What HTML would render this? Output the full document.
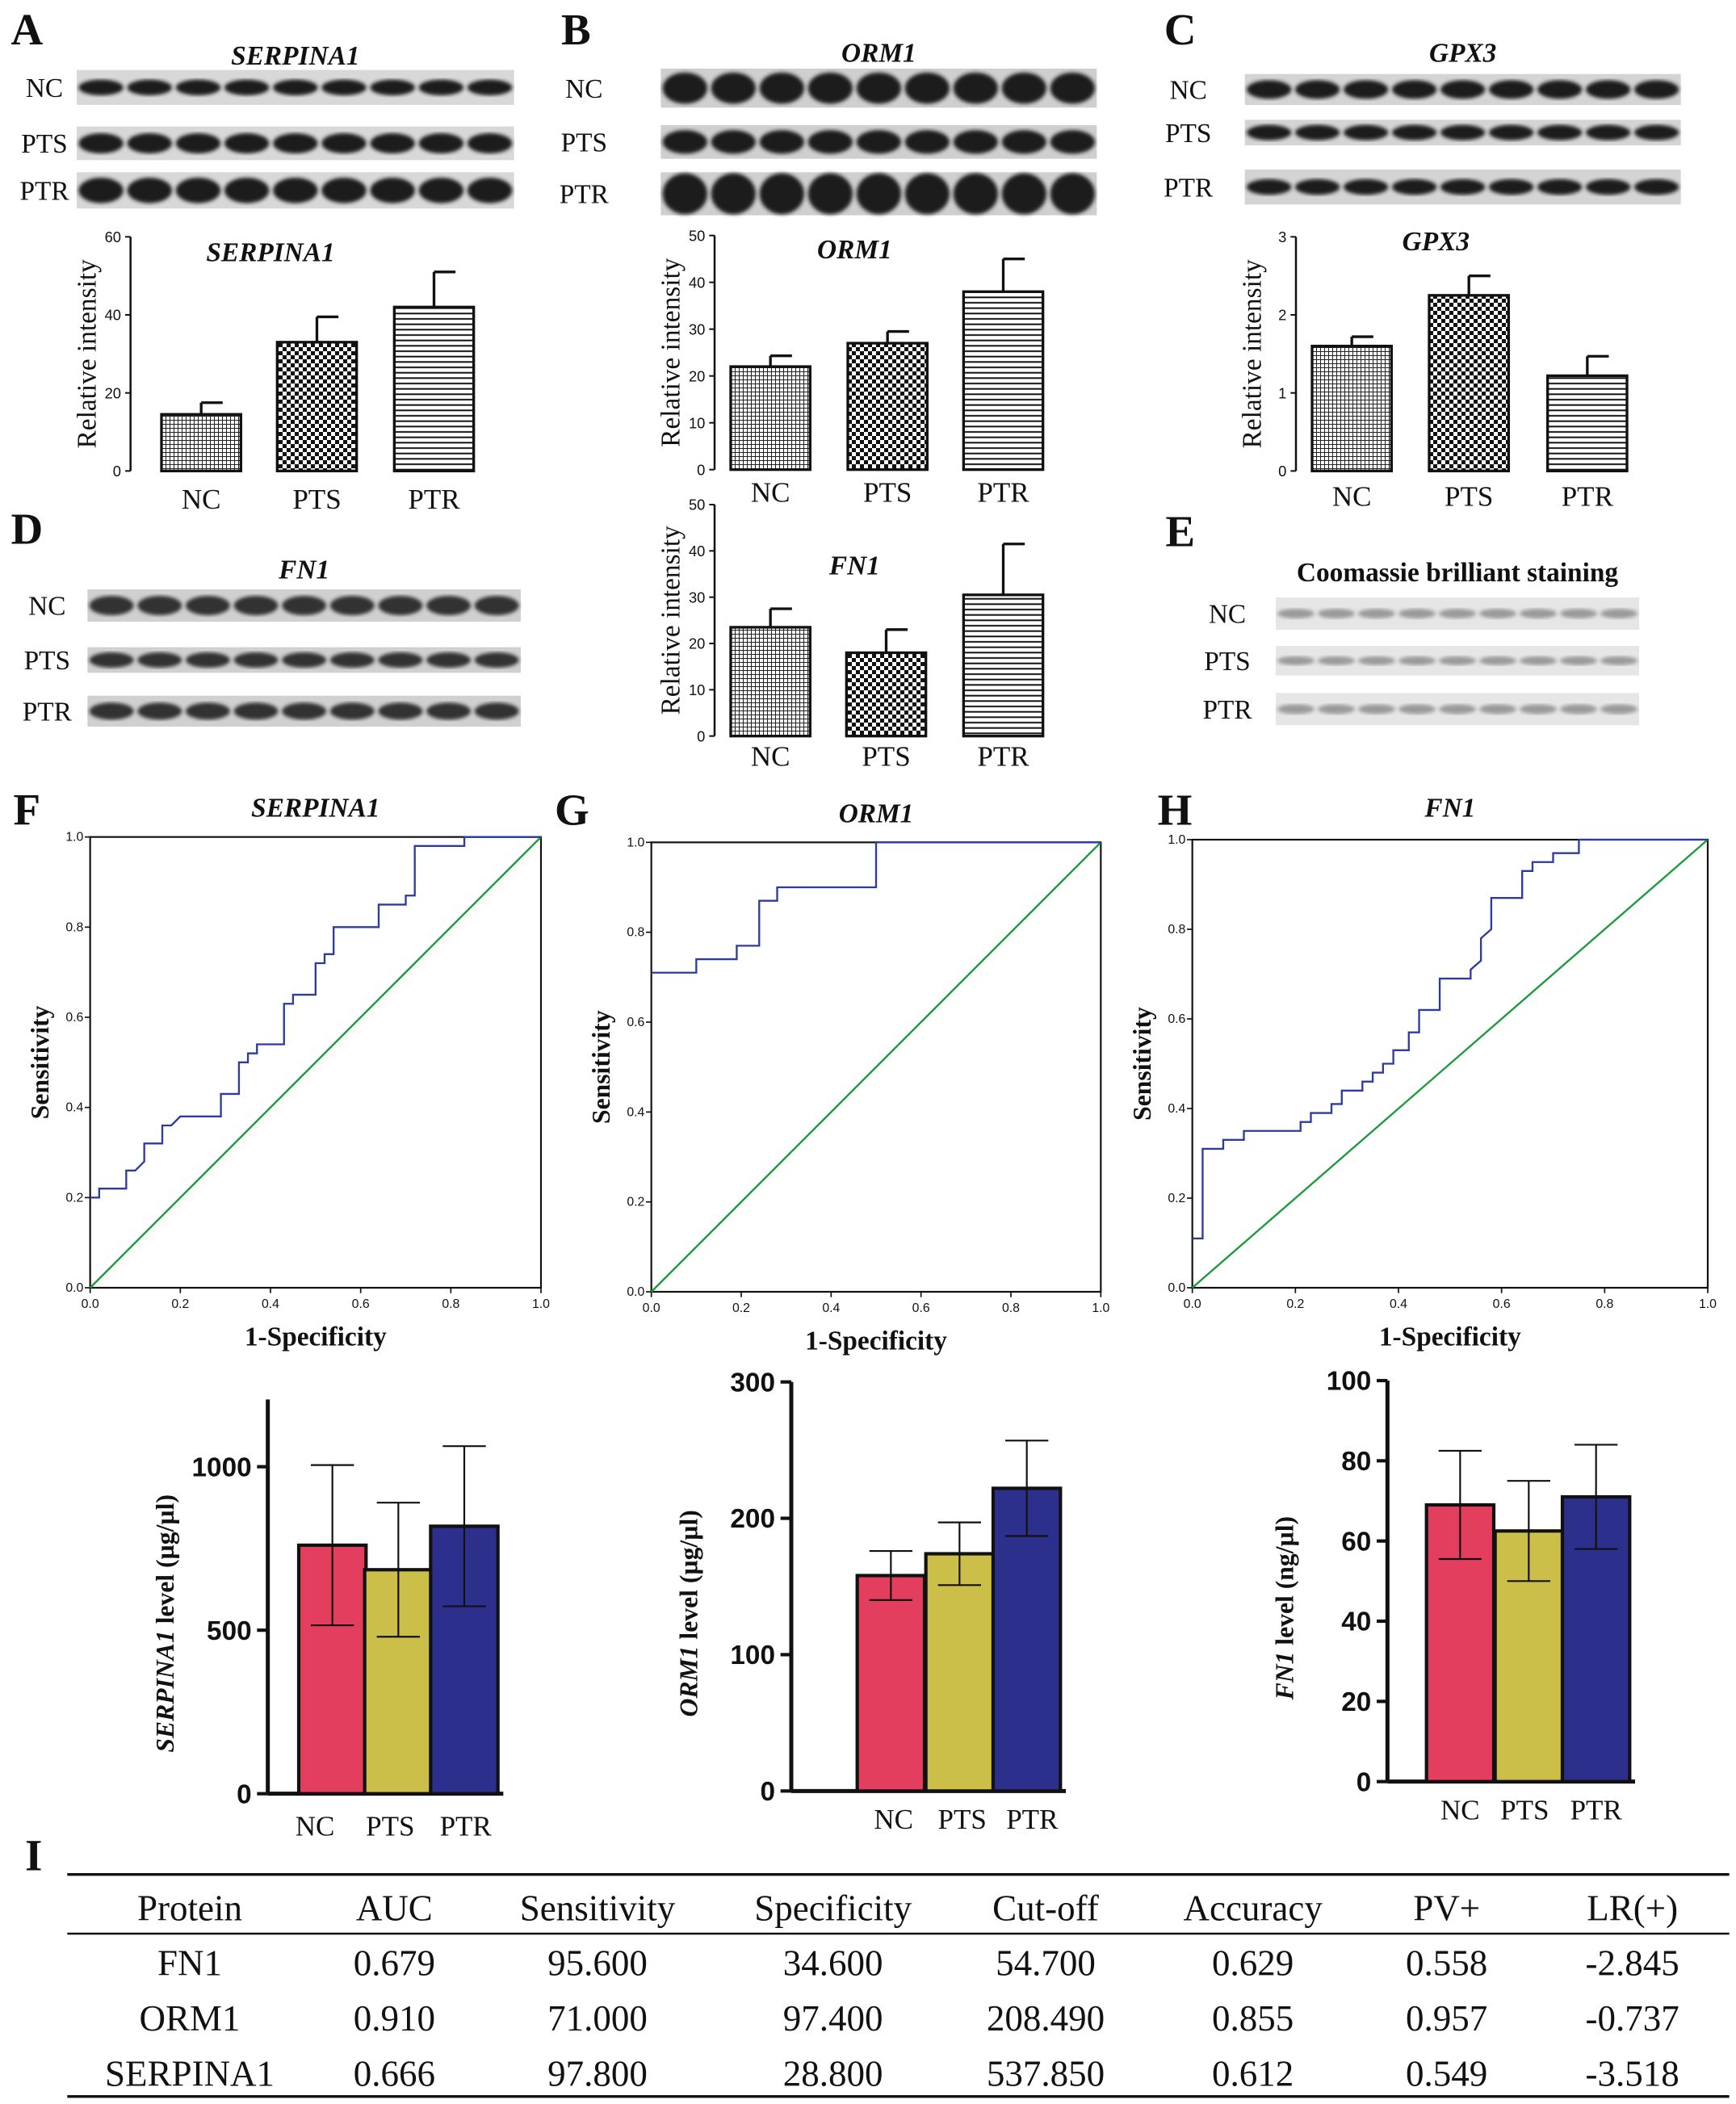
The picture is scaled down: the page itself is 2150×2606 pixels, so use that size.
<!DOCTYPE html>
<html><head><meta charset="utf-8"><style>
html,body{margin:0;padding:0;background:#fff;}
svg{display:block;font-family:"Liberation Serif",serif;}
</style></head><body>
<svg id="fig" width="2150" height="2606" viewBox="0 0 1290 1563.6" xmlns="http://www.w3.org/2000/svg">
<defs>
<pattern id="pcross" width="3" height="3" patternUnits="userSpaceOnUse"><rect width="3" height="3" fill="#fff"/><path d="M0 0H3M0 0V3" stroke="#222" stroke-width="1.2"/></pattern>
<pattern id="pcheck" width="6" height="6" patternUnits="userSpaceOnUse"><rect width="6" height="6" fill="#fff"/><rect width="3" height="3" fill="#111"/><rect x="3" y="3" width="3" height="3" fill="#111"/></pattern>
<pattern id="phl" width="4" height="4" patternUnits="userSpaceOnUse"><rect width="4" height="4" fill="#fff"/><path d="M0 1H4" stroke="#111" stroke-width="1.2"/></pattern>
<filter id="blur"><feGaussianBlur stdDeviation="1.5"/></filter>
</defs>
</svg>
<script>
// ---------- data ----------
const groups = ["NC","PTS","PTR"];
const serpinaWB = [14.5, 33, 42];
const serpinaWBErr = [17.5, 39.5, 51];
const ormWB = [22, 27, 38];
const ormWBErr = [24.3, 29.5, 45];
const gpxWB = [1.6, 2.25, 1.22];
const gpxWBErr = [1.72, 2.5, 1.47];
const fnWB = [23.5, 18, 30.5];
const fnWBErr = [27.5, 23, 41.5];
const serpinaLevel = [760, 685, 818];
const serpinaLevelSd = [245, 205, 245];
const ormLevel = [158, 174, 222];
const ormLevelSd = [18, 23, 35];
const fnLevel = [69, 62.5, 71];
const fnLevelSd = [13.5, 12.5, 13];
const rocSerpinaX = [0,0.02,0.02,0.08,0.08,0.1,0.12,0.12,0.16,0.16,0.18,0.2,0.29,0.29,0.33,0.33,0.35,0.35,0.37,0.37,0.43,0.43,0.45,0.45,0.5,0.5,0.52,0.52,0.54,0.54,0.64,0.64,0.7,0.7,0.72,0.72,0.83,0.83,1];
const rocSerpinaY = [0.2,0.2,0.22,0.22,0.26,0.26,0.28,0.32,0.32,0.36,0.36,0.38,0.38,0.43,0.43,0.5,0.5,0.52,0.52,0.54,0.54,0.63,0.63,0.65,0.65,0.72,0.72,0.74,0.74,0.8,0.8,0.85,0.85,0.87,0.87,0.98,0.98,1,1];
const rocOrmX = [0,0.1,0.1,0.19,0.19,0.24,0.24,0.28,0.28,0.5,0.5,1];
const rocOrmY = [0.71,0.71,0.74,0.74,0.77,0.77,0.87,0.87,0.9,0.9,1,1];
const rocFnX = [0,0.02,0.02,0.06,0.06,0.1,0.1,0.21,0.21,0.23,0.23,0.27,0.27,0.29,0.29,0.33,0.33,0.35,0.35,0.37,0.37,0.39,0.39,0.42,0.42,0.44,0.44,0.48,0.48,0.54,0.54,0.56,0.56,0.58,0.58,0.64,0.64,0.66,0.66,0.7,0.7,0.75,0.75,1];
const rocFnY = [0.11,0.11,0.31,0.31,0.33,0.33,0.35,0.35,0.37,0.37,0.39,0.39,0.41,0.41,0.44,0.44,0.46,0.46,0.48,0.48,0.5,0.5,0.53,0.53,0.57,0.57,0.62,0.62,0.69,0.69,0.71,0.73,0.78,0.8,0.87,0.87,0.93,0.93,0.95,0.95,0.97,0.97,1,1];
const rocTicks = ["0.0","0.2","0.4","0.6","0.8","1.0"];
const tableHeader = ["Protein","AUC","Sensitivity","Specificity","Cut-off","Accuracy","PV+","LR(+)"];
const tableRows = [
 ["FN1","0.679","95.600","34.600","54.700","0.629","0.558","-2.845"],
 ["ORM1","0.910","71.000","97.400","208.490","0.855","0.957","-0.737"],
 ["SERPINA1","0.666","97.800","28.800","537.850","0.612","0.549","-3.518"]];

// ---------- helpers ----------
const svg = document.getElementById('fig');
const NS = "http://www.w3.org/2000/svg";
function add(tag, attrs, name, txt){
  const el = document.createElementNS(NS, tag);
  for (const k in attrs) el.setAttribute(k, attrs[k]);
  if (txt !== undefined) el.textContent = txt;
  
  
  svg.appendChild(el);
  return el;
}
function text(x,y,s,size,name,extra){
  const a = Object.assign({x:x,y:y,'font-size':size,'text-anchor':'middle',fill:'#111'}, extra||{});
  return add('text', a, name, s);
}

[["A",20,33],["B",428,33],["C",877,33],["D",20,404],["E",877,406],["F",20,613],["G",425,613],["H",873,613],["I",25,1390]].forEach(p=>{
  text(p[1],p[2],p[0],33,'panel-label-'+p[0].toLowerCase(),{'font-weight':'bold'});
});

// ---------- western blots ----------
function blot(x0,x1,rows,title,titleY,labX,id,style){
  if (title) text((x0+x1)/2,titleY,title,20,id+'-blot-title',{'font-style':title.indexOf(' ')<0?'italic':'normal','font-weight':'bold'});
  rows.forEach((r,i)=>{
    const [y0,y1]=r;
    add('rect',{x:x0,y:y0,width:x1-x0,height:y1-y0,fill:style.bg},id+'-strip-'+groups[i].toLowerCase());
    text(labX,(y0+y1)/2+7,groups[i],20,id+'-lane-label-'+groups[i].toLowerCase());
    const w=(x1-x0)/9;
    for(let k=0;k<9;k++){
      const h=(y1-y0)*style.bh[i];
      add('ellipse',{cx:x0+w*(k+0.5),cy:(y0+y1)/2,rx:w*0.46,ry:h/2,fill:style.band,filter:'url(#blur)'},id+'-band');
    }
  });
}
blot(57,382,[[52,78],[94,119],[128,155]],"SERPINA1",48,33,'serpina1',{bg:'#d8d8d8',band:'#1a1a1a',bh:[0.45,0.6,0.7]});
blot(491,815,[[51,80],[93,118],[128,160]],"ORM1",46,434,'orm1',{bg:'#cfcfcf',band:'#1a1a1a',bh:[0.8,0.7,0.95]});
blot(925,1249,[[55,78],[89,108],[126,152]],"GPX3",46,883,'gpx3',{bg:'#d4d4d4',band:'#1c1c1c',bh:[0.6,0.6,0.45]});
blot(65,387,[[438,462],[481,500],[517,540]],"FN1",430,35,'fn1',{bg:'#d0d0d0',band:'#333',bh:[0.6,0.6,0.55]});
blot(948,1218,[[444,468],[480,502],[515,539]],"Coomassie brilliant staining",432,912,'coomassie',{bg:'#e6e6e6',band:'#9a9a9a',bh:[0.3,0.3,0.3]});

// ---------- hatched bar charts ----------
const fills=['url(#pcross)','url(#pcheck)','url(#phl)'];
function wbChart(id,title,titleY,ax,y0,yTop,max,ticks,bars,vals,errs,labY){
  const ys=v=>y0-(v/max)*(y0-yTop);
  add('line',{x1:ax,y1:yTop,x2:ax,y2:y0,stroke:'#111','stroke-width':1.5},id+'-y-axis');
  ticks.forEach(t=>{
    add('line',{x1:ax-4,y1:ys(t),x2:ax,y2:ys(t),stroke:'#111','stroke-width':1.2},id+'-y-tick');
    text(ax-7,ys(t)+4,String(t),11,id+'-y-tick-label',{'text-anchor':'end','font-family':'Liberation Sans, sans-serif'});
  });
  text(ax+104,titleY,title,20,id+'-chart-title',{'font-style':'italic','font-weight':'bold'});
  add('text',{x:0,y:0,'font-size':20,'text-anchor':'middle',fill:'#111',transform:`translate(${ax-26},${(y0+yTop)/2}) rotate(-90)`},id+'-y-axis-title','Relative intensity');
  vals.forEach((v,i)=>{
    const bx=bars[i], w=59, cx=bx+w/2;
    add('line',{x1:cx,y1:ys(errs[i]),x2:cx,y2:ys(v),stroke:'#111','stroke-width':2},id+'-error-bar');
    add('line',{x1:cx,y1:ys(errs[i]),x2:cx+16,y2:ys(errs[i]),stroke:'#111','stroke-width':2},id+'-error-cap');
    add('rect',{x:bx,y:ys(v),width:w,height:y0-ys(v),fill:fills[i],stroke:'#111','stroke-width':2},id+'-bar-'+groups[i].toLowerCase());
    text(cx,labY,groups[i],21,id+'-x-label-'+groups[i].toLowerCase());
  });
}
wbChart('serpina1-wb','SERPINA1',194,97,350,176,60,[0,20,40,60],[120,206,293],serpinaWB,serpinaWBErr,378);
wbChart('orm1-wb','ORM1',192,531,349,175,50,[0,10,20,30,40,50],[543,630,716],ormWB,ormWBErr,373);
wbChart('gpx3-wb','GPX3',186,963,350,176,3,[0,1,2,3],[975,1062,1150],gpxWB,gpxWBErr,376);
wbChart('fn1-wb','FN1',427,531,547,375,50,[0,10,20,30,40,50],[543,629,716],fnWB,fnWBErr,569);

// ---------- ROC ----------
function roc(id,title,titleY,x0,x1,y0,y1,xs,ys_){
  const sx=v=>x0+v*(x1-x0), sy=v=>y0-v*(y0-y1);
  text((x0+x1)/2,titleY,title,20,id+'-title',{'font-style':'italic','font-weight':'bold'});
  add('rect',{x:x0,y:y1,width:x1-x0,height:y0-y1,fill:'none',stroke:'#111','stroke-width':1.3},id+'-plot-frame');
  rocTicks.forEach((t,i)=>{
    const v=i/5;
    add('line',{x1:sx(v),y1:y0,x2:sx(v),y2:y0+4,stroke:'#111'},id+'-x-tick');
    text(sx(v),y0+15,t,9.5,id+'-x-tick-label',{'font-family':'Liberation Sans, sans-serif'});
    add('line',{x1:x0-4,y1:sy(v),x2:x0,y2:sy(v),stroke:'#111'},id+'-y-tick');
    text(x0-5,sy(v)+3,t,9.5,id+'-y-tick-label',{'text-anchor':'end','font-family':'Liberation Sans, sans-serif'});
  });
  add('line',{x1:sx(0),y1:sy(0),x2:sx(1),y2:sy(1),stroke:'#1a9a3a','stroke-width':1.4},id+'-reference-line');
  const pts=xs.map((x,i)=>sx(x)+','+sy(ys_[i])).join(' ');
  add('polyline',{points:pts,fill:'none',stroke:'#2b3c9e','stroke-width':1.4},id+'-roc-curve');
  text((x0+x1)/2,y0+43,'1-Specificity',20,id+'-x-axis-title',{'font-weight':'bold'});
  add('text',{x:0,y:0,'font-size':19,'font-weight':'bold','text-anchor':'middle',fill:'#111',transform:`translate(${x0-31},${(y0+y1)/2}) rotate(-90)`},id+'-y-axis-title','Sensitivity');
}
roc('roc-serpina1','SERPINA1',607,67,402,957,622,rocSerpinaX,rocSerpinaY);
roc('roc-orm1','ORM1',611,484,818,960,626,rocOrmX,rocOrmY);
roc('roc-fn1','FN1',607,886,1269,957,624,rocFnX,rocFnY);

// ---------- colored bar charts ----------
const cols=['#e43e5f','#cbbf4a','#2d2f8c'];
function levelChart(id,name,unit,ax,y0,yTop,max,axisTop,ticks,bx,vals,sds,labY,labOff){
  const ys=v=>y0-(v/max)*(y0-yTop);
  add('line',{x1:ax,y1:axisTop,x2:ax,y2:y0,stroke:'#111','stroke-width':3},id+'-y-axis');
  add('line',{x1:ax,y1:y0,x2:bx[2]+54,y2:y0,stroke:'#111','stroke-width':3},id+'-x-axis');
  ticks.forEach(t=>{
    add('line',{x1:ax-8,y1:ys(t),x2:ax,y2:ys(t),stroke:'#111','stroke-width':2.5},id+'-y-tick');
    text(ax-12,ys(t)+7,String(t),20,id+'-y-tick-label',{'text-anchor':'end','font-weight':'bold','font-family':'Liberation Sans, sans-serif'});
  });
  const t=add('text',{x:0,y:0,'font-size':19,'font-weight':'bold','text-anchor':'middle',fill:'#111',transform:`translate(${ax-70},${(y0+axisTop)/2+20}) rotate(-90)`},id+'-y-axis-title');
  const ts=document.createElementNS(NS,'tspan'); ts.setAttribute('font-style','italic'); ts.textContent=name;
  
  
  t.appendChild(ts); t.appendChild(document.createTextNode(' level ('+unit+')'));
  vals.forEach((v,i)=>{
    const w=50, cx=bx[i]+w/2;
    add('rect',{x:bx[i],y:ys(v),width:w,height:y0-ys(v),fill:cols[i],stroke:'#111','stroke-width':2.5},id+'-bar-'+groups[i].toLowerCase());
    add('line',{x1:cx,y1:ys(v+sds[i]),x2:cx,y2:ys(v-sds[i]),stroke:'#111','stroke-width':1.3},id+'-error-bar');
    add('line',{x1:cx-16,y1:ys(v+sds[i]),x2:cx+16,y2:ys(v+sds[i]),stroke:'#111','stroke-width':1.3},id+'-error-cap-top');
    add('line',{x1:cx-16,y1:ys(v-sds[i]),x2:cx+16,y2:ys(v-sds[i]),stroke:'#111','stroke-width':1.3},id+'-error-cap-bottom');
    text(cx+labOff[i],labY,groups[i],21,id+'-x-label-'+groups[i].toLowerCase());
  });
}
levelChart('serpina1-level','SERPINA1','µg/µl',199,1333,1090,1000,1040,[0,500,1000],[222,271,320],serpinaLevel,serpinaLevelSd,1364,[-13,-6,1]);
levelChart('orm1-level','ORM1','µg/µl',588,1331,1027,300,1027,[0,100,200,300],[637,688,738],ormLevel,ormLevelSd,1359,[2,2,4]);
levelChart('fn1-level','FN1','ng/µl',1031,1324,1026,100,1026,[0,20,40,60,80,100],[1060,1111,1161],fnLevel,fnLevelSd,1352,[0,-3,0]);

// ---------- table ----------
const colX=[141,293,444,619,777,931,1075,1213];
add('line',{x1:50,y1:1393,x2:1285,y2:1393,stroke:'#111','stroke-width':2},'table-top-rule');
add('line',{x1:50,y1:1437,x2:1285,y2:1437,stroke:'#111','stroke-width':1.5},'table-header-rule');
add('line',{x1:50,y1:1558,x2:1285,y2:1558,stroke:'#111','stroke-width':2},'table-bottom-rule');
tableHeader.forEach((h,i)=>text(colX[i],1427,h,27,'table-header-'+i));
tableRows.forEach((r,ri)=>r.forEach((c,ci)=>text(colX[ci],1468+ri*41,c,27,'table-cell-r'+ri+'-c'+ci)));
</script>
</body></html>
